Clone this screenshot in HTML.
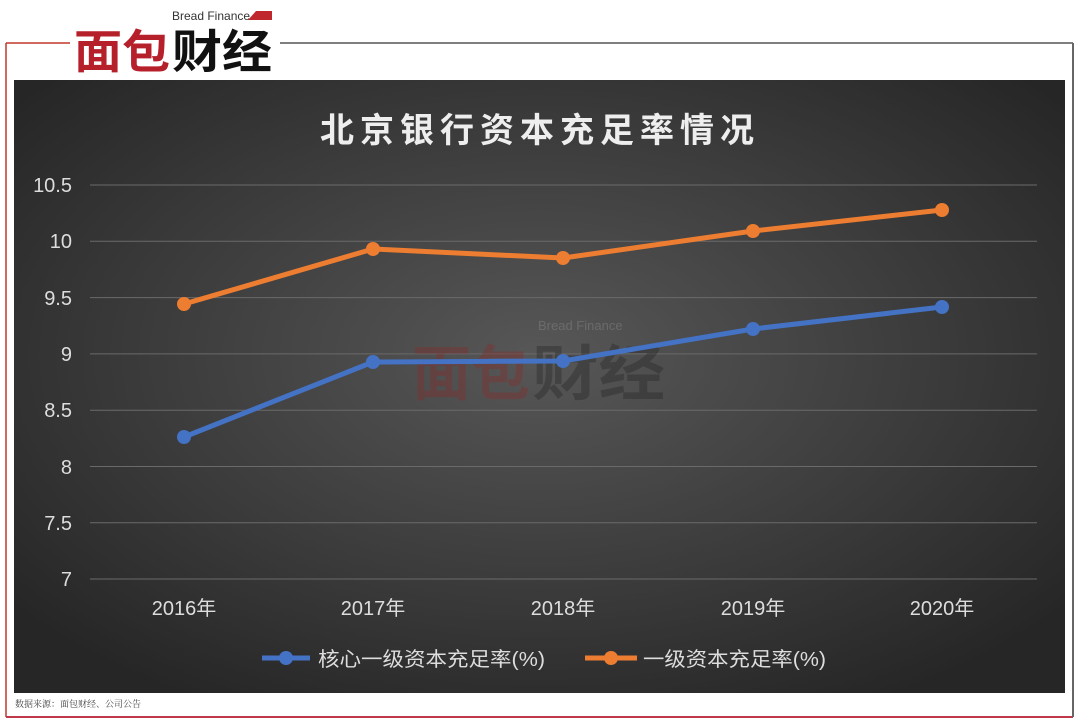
<!DOCTYPE html>
<html><head><meta charset="utf-8"><style>
body{margin:0;width:1080px;height:722px;background:#fff;overflow:hidden;font-family:"Liberation Sans","Noto Sans CJK SC",sans-serif}
</style></head><body>
<svg width="1080" height="722" xmlns="http://www.w3.org/2000/svg" style="position:absolute;left:0;top:0">
<defs>
<radialGradient id="bg" cx="0.5" cy="0.45" r="0.65">
<stop offset="0" stop-color="#575757"/><stop offset="0.6" stop-color="#3a3a3a"/><stop offset="1" stop-color="#262626"/>
</radialGradient>
</defs>
<line x1="6" y1="43" x2="70" y2="43" stroke="#c0392b" stroke-width="1.5"/>
<line x1="6" y1="43" x2="6" y2="717" stroke="#c0392b" stroke-width="1.5"/>
<line x1="6" y1="717" x2="1073" y2="717" stroke="#c0394b" stroke-width="2"/>
<line x1="280" y1="43" x2="1073" y2="43" stroke="#555" stroke-width="1.5"/>
<line x1="1073" y1="43" x2="1073" y2="717" stroke="#666" stroke-width="2"/>
<text x="172" y="20" font-size="12" fill="#333">Bread Finance</text>
<polygon points="248,20 256,11 272,11 272,20" fill="#c0272d"/>
<text x="74" y="68" font-size="46" font-weight="bold" fill="#b5202a" font-family="Noto Sans CJK SC,sans-serif" textLength="96" lengthAdjust="spacingAndGlyphs">面包</text>
<text x="172" y="68" font-size="46" font-weight="bold" fill="#111" font-family="Noto Sans CJK SC,sans-serif" textLength="100" lengthAdjust="spacingAndGlyphs">财经</text>
<rect x="14" y="80" width="1051" height="613" fill="url(#bg)"/>
<text x="540" y="142" font-size="34" fill="#eee" text-anchor="middle" font-weight="bold" letter-spacing="6">北京银行资本充足率情况</text>
<g stroke="#6a6a6a" stroke-width="1">
<line x1="90" y1="185" x2="1037" y2="185"/><line x1="90" y1="241.3" x2="1037" y2="241.3"/>
<line x1="90" y1="297.6" x2="1037" y2="297.6"/><line x1="90" y1="353.9" x2="1037" y2="353.9"/>
<line x1="90" y1="410.2" x2="1037" y2="410.2"/><line x1="90" y1="466.5" x2="1037" y2="466.5"/>
<line x1="90" y1="522.8" x2="1037" y2="522.8"/><line x1="90" y1="579" x2="1037" y2="579"/>
</g>
<g font-size="20" fill="#ddd" text-anchor="end">
<text x="72" y="192">10.5</text><text x="72" y="248">10</text><text x="72" y="305">9.5</text>
<text x="72" y="361">9</text><text x="72" y="417">8.5</text><text x="72" y="474">8</text>
<text x="72" y="530">7.5</text><text x="72" y="586">7</text>
</g>
<g font-size="20" fill="#ddd" text-anchor="middle">
<text x="184" y="615">2016年</text><text x="373" y="615">2017年</text><text x="563" y="615">2018年</text>
<text x="753" y="615">2019年</text><text x="942" y="615">2020年</text>
</g>
<g opacity="0.35">
<text x="538" y="330" font-size="13" fill="#999">Bread Finance</text>
<text x="412" y="395" font-size="60" font-weight="bold" fill="#8b2a2a" font-family="Noto Sans CJK SC,sans-serif" textLength="118" lengthAdjust="spacingAndGlyphs">面包</text>
<text x="532" y="395" font-size="60" font-weight="bold" fill="#222" font-family="Noto Sans CJK SC,sans-serif" textLength="133" lengthAdjust="spacingAndGlyphs">财经</text>
</g>
<polyline points="184,437 373,362 563,361 753,329 942,307" fill="none" stroke="#4472c4" stroke-width="5" stroke-linejoin="round"/>
<polyline points="184,304 373,249 563,258 753,231 942,210" fill="none" stroke="#ed7d31" stroke-width="5" stroke-linejoin="round"/>
<g fill="#4472c4"><circle cx="184" cy="437" r="7"/><circle cx="373" cy="362" r="7"/><circle cx="563" cy="361" r="7"/><circle cx="753" cy="329" r="7"/><circle cx="942" cy="307" r="7"/></g>
<g fill="#ed7d31"><circle cx="184" cy="304" r="7"/><circle cx="373" cy="249" r="7"/><circle cx="563" cy="258" r="7"/><circle cx="753" cy="231" r="7"/><circle cx="942" cy="210" r="7"/></g>
<line x1="262" y1="658" x2="310" y2="658" stroke="#4472c4" stroke-width="5"/><circle cx="286" cy="658" r="7" fill="#4472c4"/>
<text x="318" y="666" font-size="20" fill="#ddd" textLength="227" lengthAdjust="spacingAndGlyphs">核心一级资本充足率(%)</text>
<line x1="585" y1="658" x2="637" y2="658" stroke="#ed7d31" stroke-width="5"/><circle cx="611" cy="658" r="7" fill="#ed7d31"/>
<text x="643" y="666" font-size="20" fill="#ddd" textLength="183" lengthAdjust="spacingAndGlyphs">一级资本充足率(%)</text>
<text x="15" y="707" font-size="9" fill="#444" font-family="Noto Serif CJK SC,serif">数据来源：面包财经、公司公告</text>
</svg>
</body></html>
